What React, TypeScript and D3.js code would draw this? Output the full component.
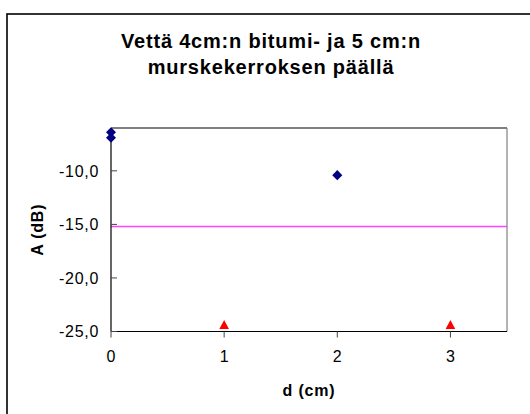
import React from "react";
import * as d3 from "d3";

// Measurement data
const diamondD = [0, 0, 2];
const diamondA = [-6.4, -6.9, -10.4];
const triangleD = [1, 3];
const triangleA = [-24.4, -24.4];
const limitD = [0, 3.5];
const limitA = [-15.2, -15.2];

const xTickValues = [0, 1, 2, 3];
const yTickValues = [-25, -20, -15, -10];

const titleLines = ["Vettä 4cm:n bitumi- ja 5 cm:n", "murskekerroksen päällä"];
const xTitle = "d (cm)";
const yTitle = "A (dB)";

const W = 530;
const H = 414;
const plot = { left: 111, top: 128, right: 507, bottom: 331.5 };

const fiLocale = d3.formatLocale({
  decimal: ",",
  thousands: " ",
  grouping: [3],
  currency: ["", " €"],
  minus: "-",
});
const fmtY = fiLocale.format(".1f");

const FONT = "'Liberation Sans', Arial, sans-serif";

export default function App() {
  const x = d3.scaleLinear().domain([0, 3.5]).range([plot.left, plot.right]);
  const y = d3.scaleLinear().domain([-25, -6]).range([plot.bottom, plot.top]);

  const limitLine = d3
    .line<number>()
    .x((_, i) => x(limitD[i]))
    .y((v) => y(v))(limitA);

  const diamond = d3.symbol(d3.symbolDiamond2, 64)();
  const tri = (cx: number, cy: number) =>
    `M${cx},${cy - 5}L${cx + 4.8},${cy + 4}L${cx - 4.8},${cy + 4}Z`;

  return (
    <svg
      width={W}
      height={H}
      style={{ position: "absolute", left: 0, top: 0, background: "#fff" }}
      fontFamily={FONT}
    >
      {/* chart frame */}
      <rect x={7} y={14} width={600} height={500} fill="#fff" stroke="#000" strokeWidth={1.6} />

      {/* title */}
      {titleLines.map((t, i) => (
        <text
          key={i}
          x={271}
          y={48 + i * 25.5}
          textAnchor="middle"
          fontSize={20}
          fontWeight="bold"
          letterSpacing={0.8}
        >
          {t}
        </text>
      ))}

      {/* plot area border: top and right */}
      <path
        d={`M${plot.left},${plot.top}H${plot.right}`}
        stroke="#000"
        strokeWidth={1.2}
        fill="none"
      />
      <path
        d={`M${plot.right},${plot.top}V${plot.bottom}`}
        stroke="#808080"
        strokeWidth={1.2}
        fill="none"
      />

      {/* limit line */}
      <path d={limitLine ?? ""} stroke="#ff44ff" strokeWidth={1.4} fill="none" />

      {/* axes */}
      <path d={`M${plot.left},${plot.top}V${plot.bottom}`} stroke="#000" strokeWidth={1.2} />
      <path d={`M${plot.left},${plot.bottom}H${plot.right}`} stroke="#000" strokeWidth={1.2} />

      {yTickValues.map((v) => (
        <g key={`y${v}`}>
          <line x1={plot.left} x2={plot.left + 6} y1={y(v)} y2={y(v)} stroke="#444" strokeWidth={1} />
          <text
            x={99}
            y={y(v)}
            dy="0.36em"
            textAnchor="end"
            fontSize={16}
            letterSpacing={0.7}
          >
            {fmtY(v)}
          </text>
        </g>
      ))}

      {xTickValues.map((v) => (
        <g key={`x${v}`}>
          <line x1={x(v)} x2={x(v)} y1={plot.bottom} y2={plot.bottom + 6} stroke="#444" strokeWidth={1} />
          <text x={x(v)} y={362} textAnchor="middle" fontSize={16}>
            {v}
          </text>
        </g>
      ))}

      {/* axis titles */}
      <text
        x={(plot.left + plot.right) / 2}
        y={396}
        textAnchor="middle"
        fontSize={16}
        fontWeight="bold"
        letterSpacing={0.8}
      >
        {xTitle}
      </text>
      <text
        transform={`translate(43,${(plot.top + plot.bottom) / 2}) rotate(-90)`}
        textAnchor="middle"
        fontSize={16}
        fontWeight="bold"
        letterSpacing={0.8}
      >
        {yTitle}
      </text>

      {/* series: diamonds */}
      {diamondD.map((d, i) => (
        <path
          key={`d${i}`}
          d={diamond ?? ""}
          transform={`translate(${x(d)},${y(diamondA[i])})`}
          fill="#000080"
        />
      ))}

      {/* series: triangles */}
      {triangleD.map((d, i) => (
        <path key={`t${i}`} d={tri(x(d), y(triangleA[i]))} fill="#ff0000" />
      ))}
    </svg>
  );
}
